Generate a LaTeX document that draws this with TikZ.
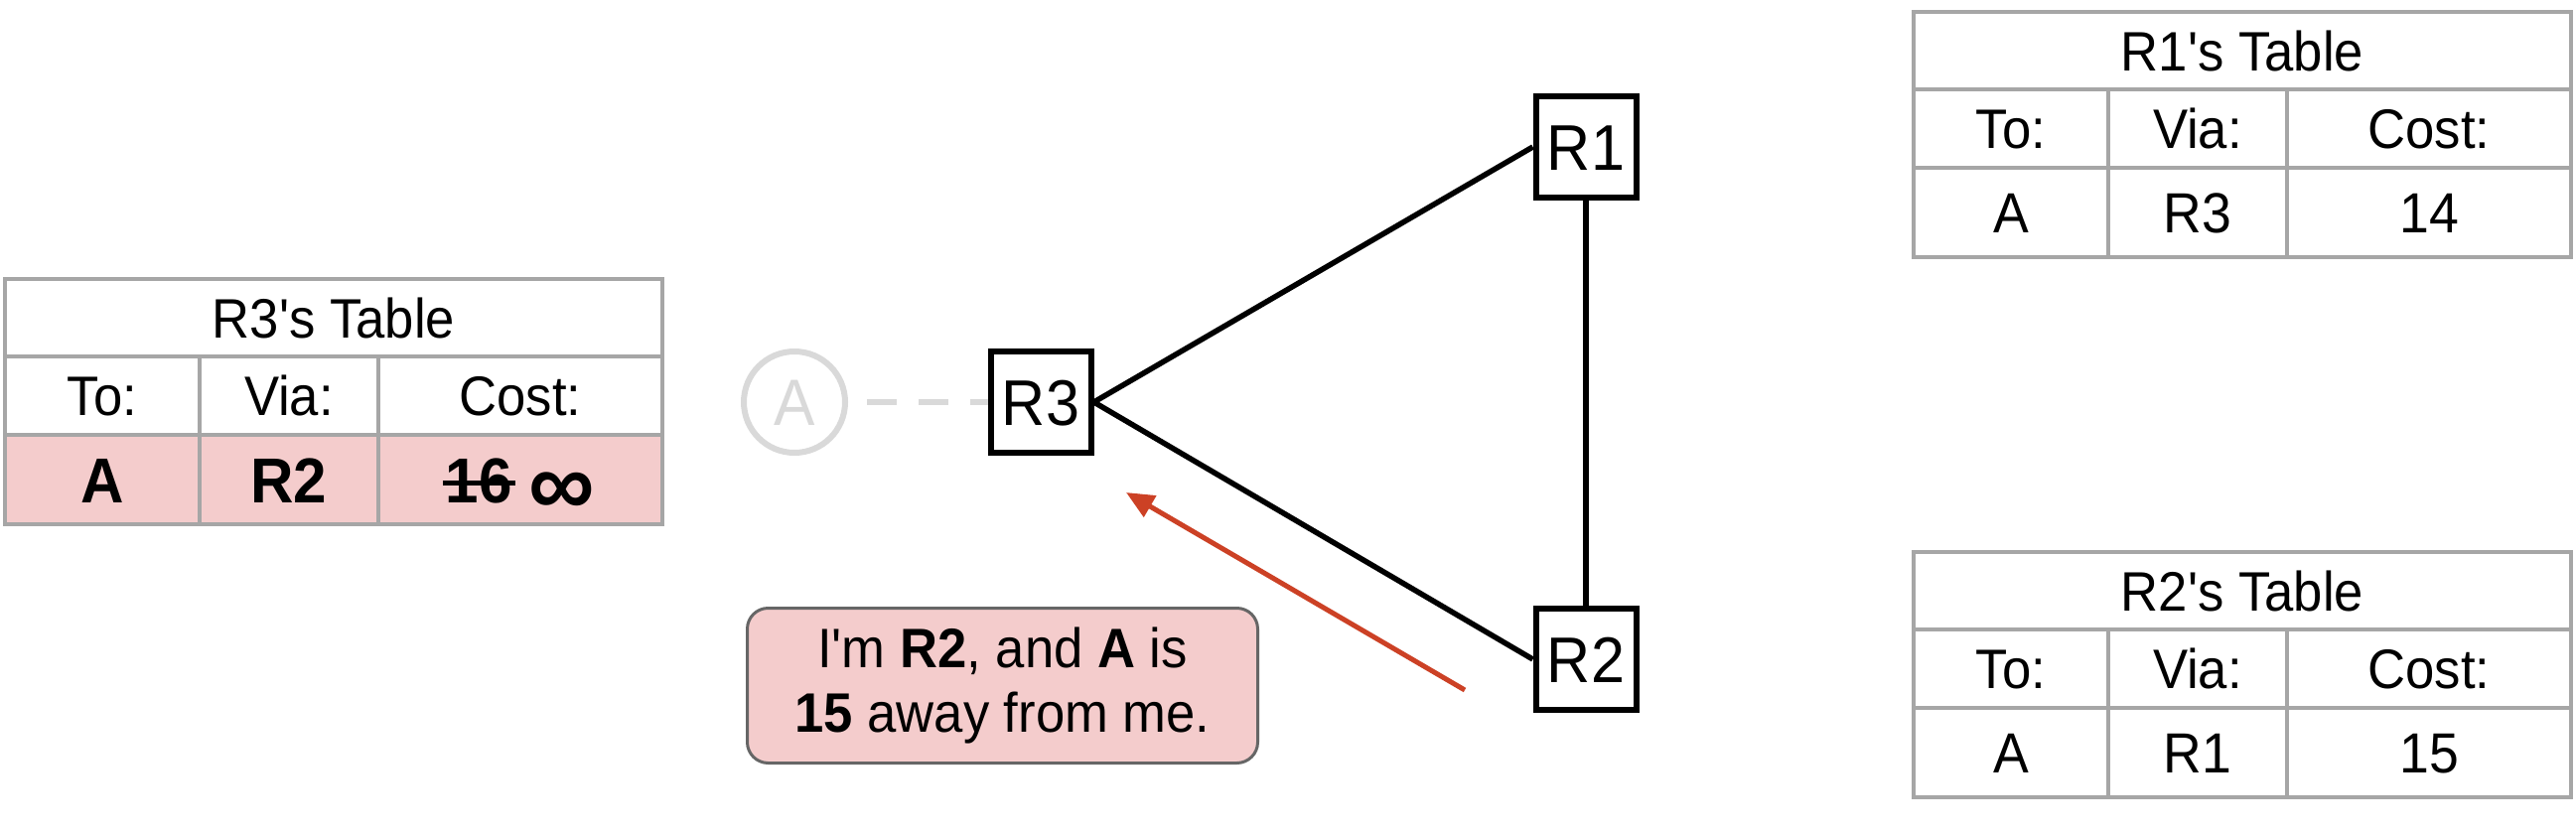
\documentclass[tikz,border=0pt]{standalone}
\usepackage{fontspec}
\usepackage{graphicx}
\setmainfont{Liberation Sans}[FakeStretch=0.94, Ligatures=TeXOff]
\usetikzlibrary{arrows.meta}
\definecolor{pinkfill}{HTML}{F4CCCC}
\definecolor{tablegray}{HTML}{A6A6A6}
\definecolor{ghost}{HTML}{D9D9D9}
\definecolor{msgborder}{HTML}{666666}
\definecolor{arrowred}{HTML}{CC4125}
\newcommand\strikeout[1]{\sbox0{#1}\rlap{\hspace{-3pt}\rule[0.27em]{\dimexpr\wd0+6pt\relax}{4.5pt}}\usebox0}
\newcommand\biginfty{\raisebox{-13pt}{\scalebox{1.55}[1.45]{∞}}}
\tikzset{
  tcell/.style={draw=tablegray, line width=3.5pt, inner sep=0pt, outer sep=0pt, fill=white, text depth=0pt},
  thead/.style={font=\fontsize{56}{60}\selectfont, text height=40pt},
  tdata/.style={font=\fontsize{57}{60}\selectfont, text height=41pt},
  tbold/.style={font=\bfseries\fontsize{64}{70}\selectfont, text height=46pt, fill=pinkfill},
  router/.style={draw=black, line width=6pt, fill=white, minimum width=101pt, minimum height=102pt, inner sep=0pt, font=\fontsize{65}{70}\selectfont, text height=46.5pt, text depth=0pt},
  ghostnode/.style={circle, draw=ghost, line width=6pt, fill=white, minimum size=102pt, inner sep=0pt, text=ghost, font=\fontsize{66}{70}\selectfont, text height=47pt, text depth=0pt},
  link/.style={draw=black, line width=5.5pt},
  ghostlink/.style={draw=ghost, line width=6.5pt, dash pattern=on 30pt off 22pt, shorten <=19pt},
  msgarrow/.style={draw=arrowred, line width=5pt, -{Triangle[length=28pt,width=24pt]}},
  msgbox/.style={draw=msgborder, line width=3pt, fill=pinkfill, rounded corners=21pt, minimum width=514pt, minimum height=156pt, align=center, font=\fontsize{56}{65}\selectfont, inner sep=0pt}
}
% #1 name, #2 x, #3 y, #4 title, #5 to, #6 via, #7 cost, #8 data style
\newcommand\routetable[8]{%
  \node[tcell, thead, minimum width=662pt, minimum height=78pt, anchor=north west] (#1-title) at (#2,#3) {#4};
  \node[tcell, thead, minimum width=196pt, minimum height=79pt, anchor=north west] (#1-to) at (#1-title.south west) {To:};
  \node[tcell, thead, minimum width=180pt, minimum height=79pt, anchor=north west] (#1-via) at (#1-to.north east) {Via:};
  \node[tcell, thead, minimum width=286pt, minimum height=79pt, anchor=north west] (#1-cost) at (#1-via.north east) {Cost:};
  \node[tcell, #8, minimum width=196pt, minimum height=90pt, anchor=north west] (#1-dto) at (#1-to.south west) {#5};
  \node[tcell, #8, minimum width=180pt, minimum height=90pt, anchor=north west] (#1-dvia) at (#1-dto.north east) {#6};
  \node[tcell, #8, minimum width=286pt, minimum height=90pt, anchor=north west] (#1-dcost) at (#1-dvia.north east) {#7};
}
\begin{document}
\begin{tikzpicture}[x=1pt,y=-1pt]
\useasboundingbox (0,0) rectangle (2594,838);
% tables
\routetable{t3}{5}{281}{R3's Table}{A}{R2}{\strikeout{16} \biginfty}{tbold}
\routetable{t1}{1927}{12}{R1's Table}{A}{R3}{14}{tdata}
\routetable{t2}{1927}{556}{R2's Table}{A}{R1}{15}{tdata}
% network
\node[ghostnode] (A) at (800,405) {A};
\node[router] (R3) at (1048,405) {R3};
\node[router] (R1) at (1597,148) {R1};
\node[router] (R2) at (1597,664) {R2};
\draw[ghostlink] (A) -- (R3);
\draw[link] (R3.east) -- (R1.west);
\draw[link] (R3.east) -- (R2.west);
\draw[link] (R1) -- (R2);
% message
\node[msgbox] (msg) at (1009.5,690.5) {I'm \textbf{R2}, and \textbf{A} is\\\textbf{15} away from me.};
\coordinate (msgtail) at (1475,695);
\coordinate (msgtip) at (1134,496);
\draw[msgarrow] (msgtail) -- (msgtip);
\end{tikzpicture}
\end{document}
